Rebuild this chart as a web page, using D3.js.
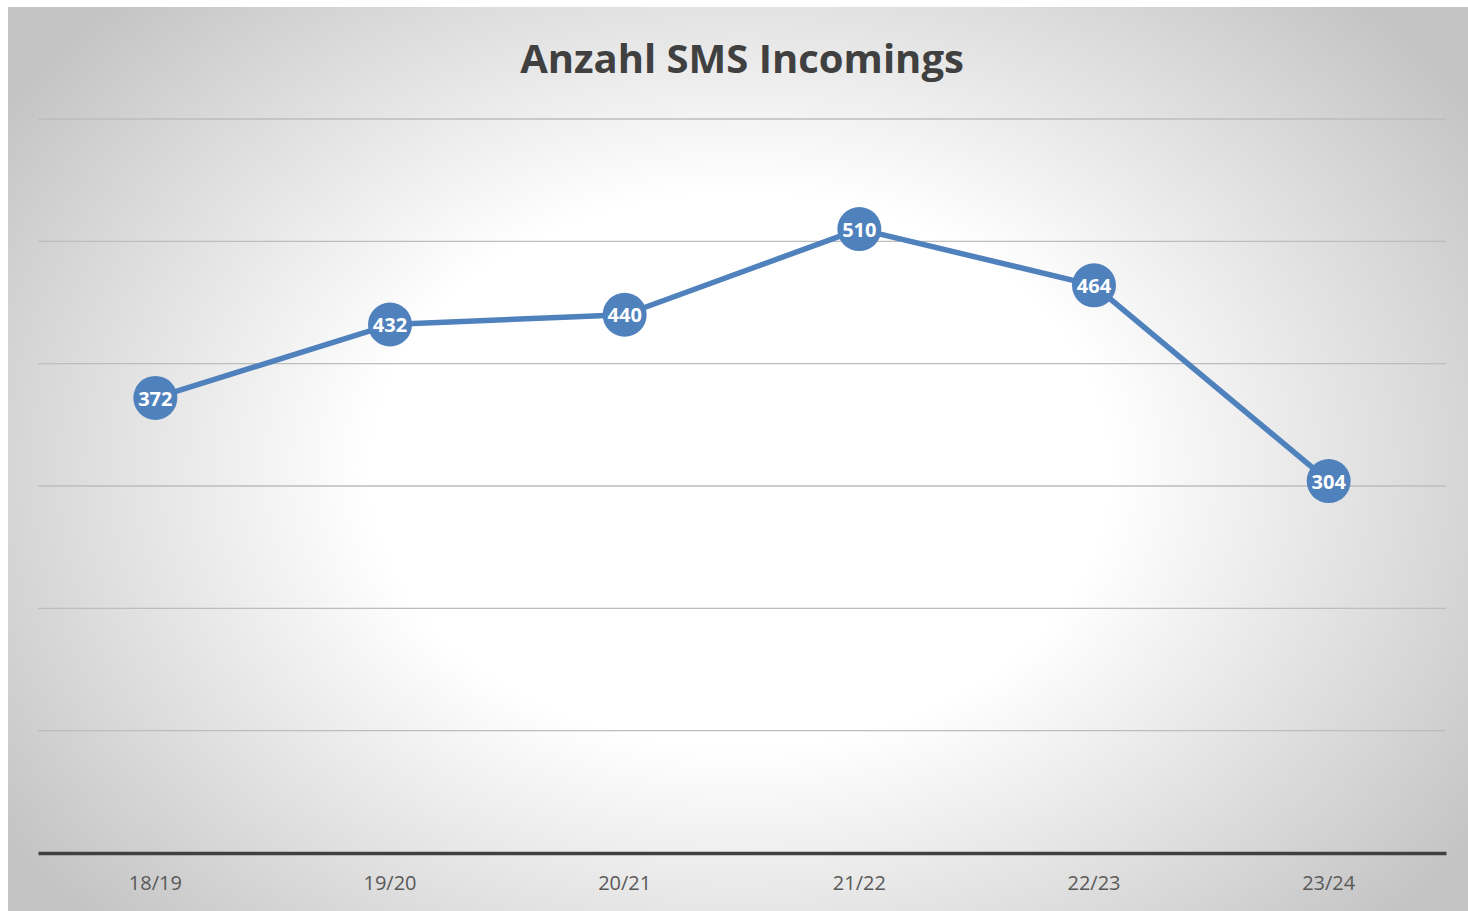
<!DOCTYPE html>
<html><head><meta charset="utf-8">
<script src="https://cdn.jsdelivr.net/npm/d3@7"></script>
<style>html,body{margin:0;padding:0;background:#fff;}svg{display:block;}</style>
</head><body>
<svg id="c" width="1468" height="911"></svg>
<script>
const categories = ["18/19","19/20","20/21","21/22","22/23","23/24"];
const values = [372,432,440,510,464,304];
const yTicks = [0,100,200,300,400,500,600];
const title = "Anzahl SMS Incomings";

const svg = d3.select("#c");
const W = 1468, H = 911;
const defs = svg.append("defs");
const rg = defs.append("radialGradient").attr("id","bg")
  .attr("gradientUnits","userSpaceOnUse")
  .attr("cx",740).attr("cy",470).attr("r",880)
  .attr("gradientTransform","translate(740,470) scale(1,0.75) translate(-740,-470)");
rg.append("stop").attr("offset","0").attr("stop-color","#ffffff");
rg.append("stop").attr("offset","0.42").attr("stop-color","#ffffff");
rg.append("stop").attr("offset","1").attr("stop-color","#c4c4c4");

svg.append("rect").attr("x",8).attr("y",7).attr("width",W-8).attr("height",H-7)
  .attr("fill","url(#bg)");

const x = d3.scaleBand().domain(categories).range([38,1446]);
const y = d3.scaleLinear().domain([0,600]).range([853,119]);

// gridlines
svg.append("g").selectAll("line").data(yTicks.filter(d=>d>0)).join("line")
  .attr("x1",38).attr("x2",1446)
  .attr("y1",d=>y(d)).attr("y2",d=>y(d))
  .attr("stroke","#bdbdbd").attr("stroke-width",1.3);

// x axis
const xa = svg.append("g").attr("transform",`translate(0,${y(0)})`)
  .call(d3.axisBottom(x).tickSize(0).tickPadding(23));
xa.select(".domain").attr("stroke","#404040").attr("stroke-width",3.5);
xa.selectAll("text").attr("font-family","'Open Sans', sans-serif")
  .attr("font-size",20).attr("fill","#595959");

// title
svg.append("text").attr("x",742).attr("y",73).attr("text-anchor","middle")
  .attr("font-family","'Open Sans', sans-serif").attr("font-weight","bold")
  .attr("font-size",40).attr("fill","#404040").text(title);

const data = categories.map((c,i)=>({c, v: values[i]}));
const cx = d => x(d.c) + x.bandwidth()/2;

svg.append("path").datum(data)
  .attr("d", d3.line().x(cx).y(d=>y(d.v)))
  .attr("fill","none").attr("stroke","#4f81bd").attr("stroke-width",5.5)
  .attr("stroke-linejoin","round");

const pts = svg.append("g").selectAll("g").data(data).join("g")
  .attr("transform", d=>`translate(${cx(d)},${y(d.v)})`);
pts.append("circle").attr("r",22).attr("fill","#4f81bd");
pts.append("text").attr("text-anchor","middle").attr("dy","0.38em")
  .attr("font-family","'Open Sans', sans-serif").attr("font-weight","bold")
  .attr("font-size",20).attr("fill","#ffffff").text(d=>d.v);
</script>
</body></html>
